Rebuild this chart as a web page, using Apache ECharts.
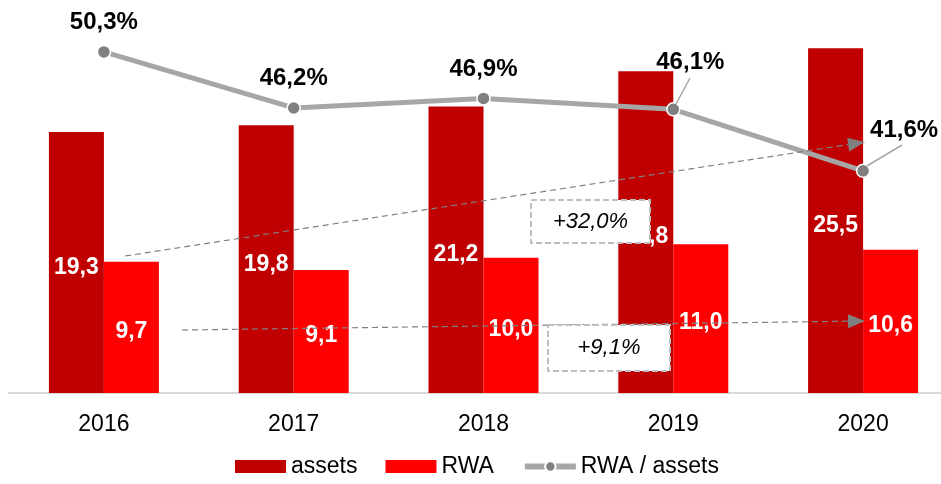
<!DOCTYPE html>
<html>
<head>
<meta charset="utf-8">
<script src="https://cdn.jsdelivr.net/npm/echarts@6/dist/echarts.min.js"></script>
<style>
  html, body { margin: 0; padding: 0; background: #fff; overflow: hidden; }
  /* the original plot runs a little past the right edge of the picture */
  #chart { width: 958px; height: 484px; }
</style>
</head>
<body>
<div id="chart"></div>
<script>
var years = ["2016", "2017", "2018", "2019", "2020"];
var assets = [19.3, 19.8, 21.2, 23.8, 25.5];
var rwa = [9.7, 9.1, 10.0, 11.0, 10.6];
var ratio = [50.3, 46.2, 46.9, 46.1, 41.6];

function comma(v, digits) {
  return v.toFixed(digits).replace(".", ",");
}

var myChart = echarts.init(document.getElementById("chart"));

// dashed annotation helpers (arrow + box)
var dashGray = "#808080";
function arrow(x1, y1, x2, y2) {
  var ang = Math.atan2(y2 - y1, x2 - x1);
  var len = 17, w = 7;
  var bx = x2 - len * Math.cos(ang), by = y2 - len * Math.sin(ang);
  return [
    {
      type: "line", z: 50,
      shape: { x1: x1, y1: y1, x2: bx, y2: by },
      style: { stroke: dashGray, lineWidth: 1.2, lineDash: [6, 4] }
    },
    {
      type: "polygon", z: 50,
      shape: { points: [
        [x2, y2],
        [bx - w * Math.sin(ang), by + w * Math.cos(ang)],
        [bx + w * Math.sin(ang), by - w * Math.cos(ang)]
      ] },
      style: { fill: dashGray }
    }
  ];
}
function box(x, y, w, h, text) {
  return {
    type: "group", z: 60,
    children: [
      {
        type: "rect", z: 60,
        shape: { x: x, y: y, width: w, height: h },
        style: { fill: "#fff", stroke: "#bfbfbf", lineWidth: 2, lineDash: [6, 3] }
      },
      {
        type: "text", z: 61,
        x: x + w / 2, y: y + h / 2,
        style: {
          text: text, fill: "#000", fontSize: 22, fontStyle: "italic",
          fontFamily: "Liberation Sans, Arial, sans-serif",
          align: "center", verticalAlign: "middle"
        }
      }
    ]
  };
}
function leader(x1, y1, x2, y2) {
  return {
    type: "line", z: 40,
    shape: { x1: x1, y1: y1, x2: x2, y2: y2 },
    style: { stroke: "#a6a6a6", lineWidth: 1.5 }
  };
}

var graphics = []
  .concat(arrow(125, 256, 865, 142))
  .concat(arrow(182, 330, 865, 321))
  .concat([leader(676, 104, 690, 78), leader(867, 166, 902, 145)])
  .concat([box(531, 200, 119, 43, "+32,0%"), box(548, 325, 122, 46, "+9,1%")]);

myChart.setOption({
  textStyle: { fontFamily: "Liberation Sans, Arial, sans-serif" },
  animation: false,
  grid: { left: 9, top: 0, right: 0, height: 393 },
  legend: {
    bottom: 1,
    left: 230,
    itemWidth: 51,
    itemHeight: 13,
    itemGap: 28,
    textStyle: { fontSize: 23, color: "#000" },
    data: [
      { name: "assets", icon: "rect" },
      { name: "RWA", icon: "rect" },
      { name: "RWA / assets", lineStyle: { width: 6, color: "#a6a6a6" } }
    ]
  },
  xAxis: {
    type: "category",
    data: years,
    axisTick: { show: false },
    axisLine: { lineStyle: { color: "#d9d9d9", width: 2 } },
    axisLabel: { fontSize: 23, color: "#000", margin: 20 }
  },
  yAxis: [
    { type: "value", min: 0, max: 29.07, show: false, splitLine: { show: false } },
    { type: "value", min: 25.34, max: 54.1, show: false, splitLine: { show: false } }
  ],
  series: [
    {
      name: "assets",
      type: "bar",
      data: assets,
      barWidth: 55,
      barGap: "0%",
      itemStyle: { color: "#c00000" },
      label: {
        show: true, position: "inside", color: "#fff",
        fontSize: 23, fontWeight: "bold", offset: [0, 5],
        formatter: function (p) { return comma(p.value, 1); }
      }
    },
    {
      name: "RWA",
      type: "bar",
      data: rwa,
      barWidth: 55,
      itemStyle: { color: "#ff0000" },
      label: {
        show: true, position: "inside", color: "#fff",
        fontSize: 23, fontWeight: "bold", offset: [0, 4],
        formatter: function (p) { return comma(p.value, 1); }
      }
    },
    {
      name: "RWA / assets",
      type: "line",
      yAxisIndex: 1,
      data: ratio,
      symbol: "circle",
      symbolSize: 13,
      z: 10,
      lineStyle: { color: "#a6a6a6", width: 5 },
      itemStyle: { color: "#808080", borderColor: "#fff", borderWidth: 1.5 },
      label: {
        show: true, position: "top", distance: 10, color: "#000",
        fontSize: 24, fontWeight: "bold",
        formatter: function (p) { return comma(p.value, 1) + "%"; }
      },
      labelLayout: function (p) {
        if (p.dataIndex === 3) return { dx: 17, dy: -18 };
        if (p.dataIndex === 4) return { dx: 41, dy: -11 };
        return {};
      }
    }
  ],
  graphic: graphics
});
</script>
</body>
</html>
